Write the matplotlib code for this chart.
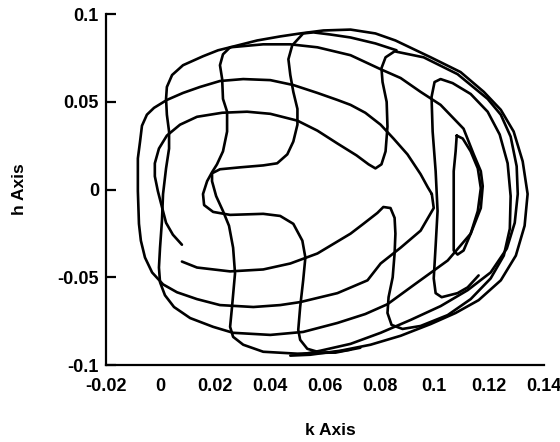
import matplotlib.pyplot as plt

plt.rcParams['font.family'] = ['Liberation Sans', 'DejaVu Sans']

# traced pieces of the (k, h) path
# inner top arc from the upper loose end, round the U, up and round the right side
k_inner_top = [0.0078, 0.0045, 0.0020, 0.0005, -0.0010, -0.0021, -0.0021, -0.0006, 0.0023, 0.0071,
               0.0133, 0.0225, 0.0316, 0.0401, 0.0500, 0.0573, 0.0646, 0.0716, 0.0760, 0.0785,
               0.0807, 0.0822, 0.0829, 0.0826, 0.0811, 0.0807, 0.0822, 0.0855, 0.0961, 0.1085,
               0.1195, 0.1243, 0.1279, 0.1301, 0.1305, 0.1294, 0.1265, 0.1206, 0.1122, 0.1023,
               0.0913, 0.0804, 0.0694, 0.0584, 0.0510]
h_inner_top = [-0.0314, -0.0257, -0.0189, -0.0099, -0.0008, 0.0076, 0.0150, 0.0234, 0.0308, 0.0370,
               0.0415, 0.0438, 0.0444, 0.0432, 0.0393, 0.0336, 0.0263, 0.0195, 0.0144, 0.0121,
               0.0144, 0.0218, 0.0359, 0.0500, 0.0613, 0.0692, 0.0754, 0.0788, 0.0754, 0.0658,
               0.0517, 0.0427, 0.0302, 0.0133, -0.0025, -0.0189, -0.0336, -0.0472, -0.0573, -0.0664,
               -0.0743, -0.0816, -0.0879, -0.0918, -0.0941]

# outermost arc
k_outer = [0.0254, 0.0353, 0.0437, 0.0510, 0.0595, 0.0694, 0.0785, 0.0858, 0.0987, 0.1096,
           0.1181, 0.1243, 0.1290, 0.1323, 0.1341, 0.1330, 0.1298, 0.1243, 0.1162, 0.1078,
           0.0987, 0.0877, 0.0767, 0.0657, 0.0547, 0.0474]
h_outer = [0.0811, 0.0850, 0.0873, 0.0890, 0.0907, 0.0912, 0.0890, 0.0850, 0.0754, 0.0670,
           0.0557, 0.0455, 0.0331, 0.0161, -0.0025, -0.0206, -0.0376, -0.0517, -0.0630, -0.0703,
           -0.0766, -0.0833, -0.0884, -0.0918, -0.0941, -0.0946]

# left wavy line, lower arc, inner right line and second top arc
k_left_wave = [0.0254, 0.0210, 0.0155, 0.0082, 0.0042, 0.0023, 0.0020, 0.0023, 0.0031, 0.0031,
               0.0020, 0.0009, 0.0005, -0.0002, -0.0006, -0.0002, 0.0016, 0.0049, 0.0108, 0.0192,
               0.0265, 0.0401, 0.0521, 0.0646, 0.0748, 0.0829, 0.0924, 0.1049, 0.1133, 0.1170,
               0.1177, 0.1170, 0.1144, 0.1107, 0.1023, 0.0950, 0.0877, 0.0804, 0.0694, 0.0573,
               0.0474, 0.0375, 0.0254]
h_left_wave = [0.0811, 0.0794, 0.0760, 0.0709, 0.0653, 0.0585, 0.0517, 0.0427, 0.0331, 0.0234,
               0.0121, -0.0025, -0.0178, -0.0331, -0.0444, -0.0528, -0.0602, -0.0669, -0.0732, -0.0782,
               -0.0816, -0.0828, -0.0811, -0.0760, -0.0709, -0.0653, -0.0545, -0.0404, -0.0251, -0.0105,
               0.0020, 0.0105, 0.0201, 0.0347, 0.0483, 0.0557, 0.0636, 0.0686, 0.0766, 0.0811,
               0.0828, 0.0828, 0.0811]

# left boundary, third top arc down to the cusp, back along the lower arc
k_boundary = [0.0991, 0.0998, 0.0950, 0.0877, 0.0804, 0.0756, 0.0646, 0.0510, 0.0437, 0.0339,
              0.0217, 0.0133, 0.0060, 0.0009, -0.0031, -0.0057, -0.0072, -0.0079, -0.0083, -0.0083,
              -0.0075, -0.0068, -0.0050, -0.0024, 0.0023, 0.0082, 0.0144, 0.0217, 0.0302, 0.0401,
              0.0485, 0.0573, 0.0646, 0.0694, 0.0748, 0.0804, 0.0851, 0.0902, 0.0950, 0.0976,
              0.0991]
h_boundary = [-0.0025, -0.0105, -0.0234, -0.0331, -0.0421, -0.0517, -0.0590, -0.0641, -0.0658, -0.0669,
              -0.0658, -0.0624, -0.0585, -0.0540, -0.0472, -0.0387, -0.0291, -0.0195, -0.0008, 0.0178,
              0.0274, 0.0364, 0.0427, 0.0466, 0.0511, 0.0551, 0.0585, 0.0619, 0.0630, 0.0624,
              0.0596, 0.0551, 0.0511, 0.0483, 0.0438, 0.0370, 0.0291, 0.0201, 0.0088, 0.0014,
              -0.0025]

# second wavy line with the hook, down to the bottom
k_hook = [0.0254, 0.0228, 0.0217, 0.0225, 0.0228, 0.0243, 0.0243, 0.0228, 0.0206, 0.0188,
          0.0170, 0.0155, 0.0159, 0.0192, 0.0254, 0.0375, 0.0437, 0.0485, 0.0518, 0.0529,
          0.0521, 0.0510, 0.0503, 0.0510, 0.0536, 0.0584, 0.0639, 0.0730]
h_hook = [0.0811, 0.0771, 0.0709, 0.0630, 0.0517, 0.0444, 0.0331, 0.0218, 0.0144, 0.0099,
          0.0048, -0.0025, -0.0088, -0.0127, -0.0144, -0.0138, -0.0150, -0.0195, -0.0291, -0.0387,
          -0.0517, -0.0669, -0.0799, -0.0856, -0.0907, -0.0929, -0.0929, -0.0901]

# top line, third wavy line, U turn and down to the lowest arc
k_u_turn = [0.0862, 0.0785, 0.0694, 0.0620, 0.0558, 0.0521, 0.0481, 0.0467, 0.0474, 0.0485,
            0.0500, 0.0500, 0.0485, 0.0463, 0.0426, 0.0375, 0.0291, 0.0217, 0.0188, 0.0188,
            0.0203, 0.0228, 0.0250, 0.0265, 0.0272, 0.0261, 0.0254, 0.0265, 0.0302, 0.0375,
            0.0500, 0.0620, 0.0694]
h_u_turn = [0.0794, 0.0833, 0.0867, 0.0884, 0.0896, 0.0890, 0.0822, 0.0743, 0.0653, 0.0557,
            0.0460, 0.0370, 0.0274, 0.0201, 0.0150, 0.0138, 0.0127, 0.0116, 0.0093, 0.0048,
            -0.0037, -0.0122, -0.0206, -0.0331, -0.0477, -0.0669, -0.0782, -0.0839, -0.0884, -0.0924,
            -0.0935, -0.0929, -0.0912]

# inner lower arc from the lower loose end, bump, right side and back down
k_inner_low = [0.0078, 0.0133, 0.0254, 0.0375, 0.0474, 0.0573, 0.0694, 0.0741, 0.0792, 0.0814,
               0.0840, 0.0855, 0.0858, 0.0855, 0.0848, 0.0833, 0.0829, 0.0844, 0.0884, 0.0950,
               0.1049, 0.1133, 0.1206, 0.1254, 0.1276, 0.1279, 0.1268, 0.1239, 0.1195, 0.1133,
               0.1067, 0.1023, 0.1001, 0.0990, 0.0994, 0.1005, 0.1012, 0.1005, 0.0998, 0.1005,
               0.1027, 0.1085, 0.1122, 0.1162]
h_inner_low = [-0.0410, -0.0444, -0.0466, -0.0455, -0.0421, -0.0364, -0.0251, -0.0195, -0.0133, -0.0099,
               -0.0105, -0.0161, -0.0251, -0.0364, -0.0500, -0.0613, -0.0703, -0.0771, -0.0794, -0.0777,
               -0.0715, -0.0624, -0.0506, -0.0376, -0.0223, -0.0037, 0.0150, 0.0314, 0.0444, 0.0545,
               0.0607, 0.0630, 0.0613, 0.0528, 0.0331, 0.0105, -0.0122, -0.0319, -0.0506, -0.0590,
               -0.0613, -0.0590, -0.0557, -0.0489]

# narrow loop on the right
k_loop = [0.1082, 0.1078, 0.1071, 0.1071, 0.1071, 0.1071, 0.1085, 0.1107, 0.1133, 0.1159,
          0.1170, 0.1159, 0.1133, 0.1104, 0.1082]
h_loop = [0.0308, 0.0218, 0.0105, -0.0025, -0.0218, -0.0347, -0.0370, -0.0347, -0.0251, -0.0122,
          0.0008, 0.0121, 0.0218, 0.0291, 0.0308]

x_ticks = [-0.02, 0, 0.02, 0.04, 0.06, 0.08, 0.1, 0.12, 0.14]
x_tick_labels = ['-0.02', '0', '0.02', '0.04', '0.06', '0.08', '0.1', '0.12', '0.14']
y_ticks = [-0.1, -0.05, 0, 0.05, 0.1]
y_tick_labels = ['-0.1', '-0.05', '0', '0.05', '0.1']

pieces = [
    (k_inner_top, h_inner_top),
    (k_outer, h_outer),
    (k_left_wave, h_left_wave),
    (k_boundary, h_boundary),
    (k_hook, h_hook),
    (k_u_turn, h_u_turn),
    (k_inner_low, h_inner_low),
    (k_loop, h_loop),
]

fig = plt.figure(figsize=(5.6, 4.42), dpi=100)
ax = fig.add_axes([0.189, 0.174, 0.782, 0.794])

for k, h in pieces:
    ax.plot(k, h, color='black', lw=1.9, solid_joinstyle='round', solid_capstyle='round')

ax.set_xlim(-0.02, 0.14)
ax.set_ylim(-0.1, 0.1)
ax.spines['top'].set_visible(False)
ax.spines['right'].set_visible(False)
ax.spines['left'].set_linewidth(1.6)
ax.spines['bottom'].set_linewidth(1.6)

ax.set_xticks(x_ticks)
ax.set_xticklabels(x_tick_labels, fontweight='bold')
ax.set_yticks(y_ticks)
ax.set_yticklabels(y_tick_labels, fontweight='bold')
ax.tick_params(axis='x', length=0, pad=9, labelsize=13)
ax.tick_params(axis='y', direction='in', length=7, width=1.6, pad=5, labelsize=13)

ax.set_xlabel('k Axis', fontsize=12.5, fontweight='bold')
ax.set_ylabel('h Axis', fontsize=12.5, fontweight='bold')
ax.xaxis.set_label_coords(0.512, -0.165)
ax.yaxis.set_label_coords(-0.18, 0.5)

fig.savefig('out.png', dpi=100)
